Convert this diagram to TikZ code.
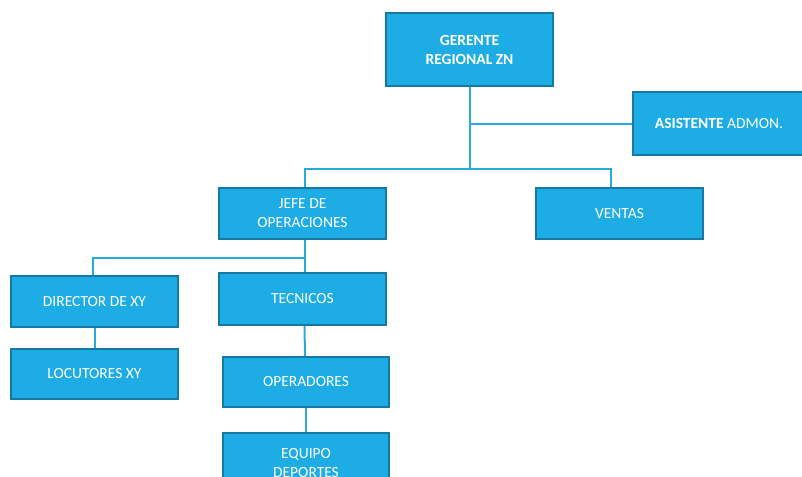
\documentclass[tikz,border=0pt]{standalone}
\usepackage{fontspec}
\setmainfont{Carlito}
\usepackage{tikz}
\usetikzlibrary{positioning,calc}
\definecolor{boxblue}{RGB}{29,172,228}
\definecolor{boxedge}{RGB}{22,121,163}
\definecolor{linkblue}{RGB}{40,170,222}
\tikzset{
  blk/.style={draw=boxedge, fill=boxblue, line width=1.6pt, text=white,
              minimum width=167pt, minimum height=51pt, align=center,
              font=\fontsize{15.5}{19}\selectfont},
  conn/.style={draw=linkblue, line width=2pt},
}

\begin{document}
\begin{tikzpicture}[x=1pt, y=-1pt]
  \useasboundingbox (0,0) rectangle (802,476);
  \clip (0,0) rectangle (802,476);
  % top level
  \node[blk, minimum height=73pt, font=\fontsize{15.5}{19}\selectfont\bfseries] (gerente) at (469.5,49.5) {GERENTE\\REGIONAL ZN};
  \node[blk, minimum width=172pt, minimum height=63pt] (asist) at (719,123.5) {\textbf{ASISTENTE} ADMON.};
  % second level
  \node[blk] (jefe) at (302.5,213.5) {JEFE DE\\OPERACIONES};
  \node[blk] (ventas) at (619.5,213.5) {VENTAS};
  % third level
  \node[blk] (director) at (94.5,301.5) {DIRECTOR DE XY};
  \node[blk, minimum height=52pt] (tecnicos) at (302.5,299) {TECNICOS};
  \node[blk, minimum height=50pt] (locutores) at (94.5,374) {LOCUTORES XY};
  \node[blk, minimum width=166pt, minimum height=50pt] (operadores) at (306,382) {OPERADORES};
  \node[blk, minimum width=166pt, minimum height=60pt] (equipo) at (306,463) {EQUIPO\\DEPORTES};
  % connectors
  \coordinate (hub) at (469.5,169);
  \coordinate (jhub) at (304.5,258);
  \draw[conn] (gerente.south) -- (hub);
  \draw[conn] (gerente.south |- asist.west) -- (asist.west);
  \draw[conn] ([xshift=2pt]jefe.north) |- (hub) -| ([xshift=-9pt]ventas.north);
  \draw[conn] ([xshift=2pt]jefe.south) -- ([xshift=2pt]tecnicos.north);
  \draw[conn] (jhub) -| ([xshift=-2pt]director.north);
  \draw[conn] (director.south) -- (locutores.south |- locutores.north);
  \draw[conn] ([xshift=2pt]tecnicos.south) -- ([xshift=-1pt]operadores.north);
  \draw[conn] (operadores.south) -- (equipo.north);
\end{tikzpicture}
\end{document}
